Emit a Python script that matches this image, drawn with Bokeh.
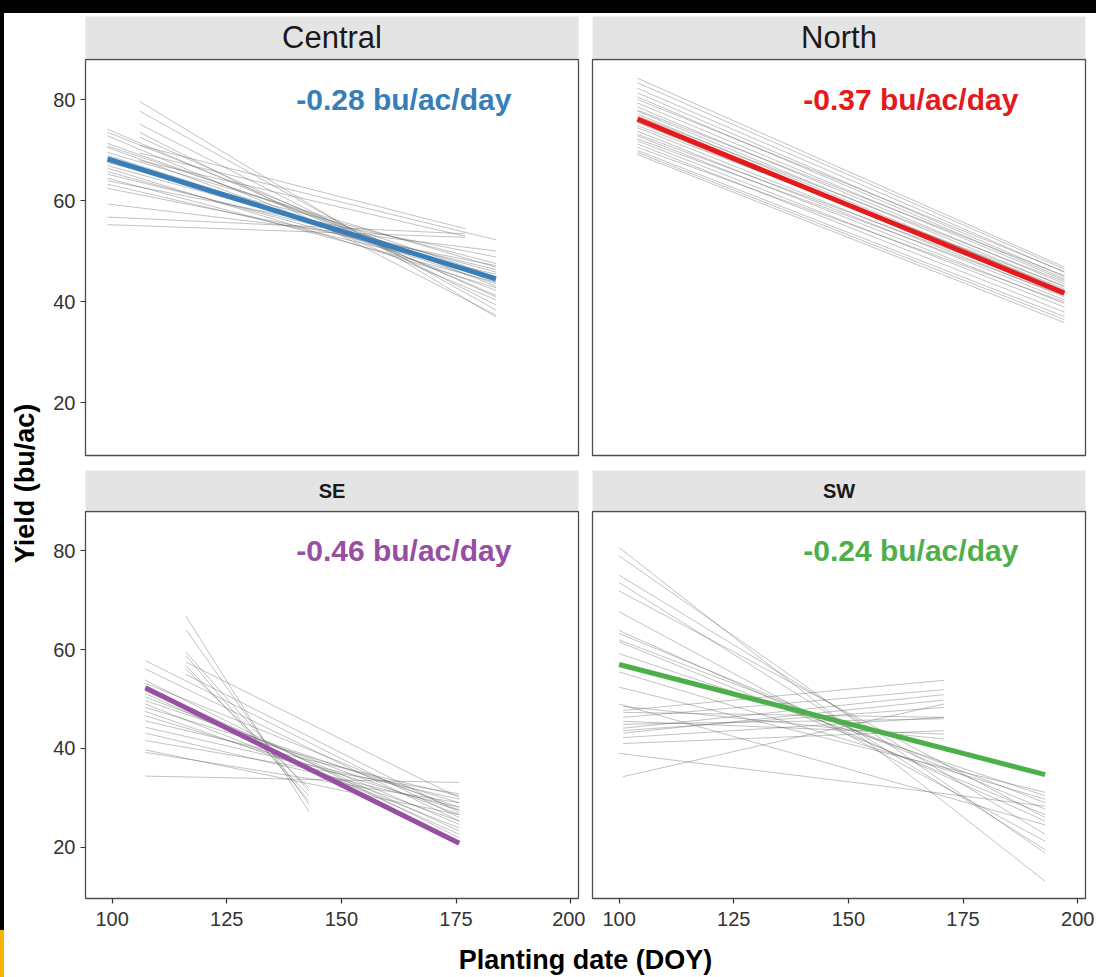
import math

from bokeh.core.properties import value
from bokeh.embed import file_html
from bokeh.layouts import column, row
from bokeh.models import ColumnDataSource, Div, FixedTicker, Range1d, Spacer
from bokeh.plotting import figure
from bokeh.resources import INLINE

FONT = "Liberation Sans"

# ---- regional summary fits -------------------------------------------------
regions = ["Central", "North", "SE", "SW"]
slopes = [-0.28, -0.37, -0.46, -0.24]            # bu/ac/day
fit_colors = ["#377EB8", "#E41A1C", "#984EA3", "#4DAF4A"]
fit_start_doy = [99.0, 104.0, 107.25, 100.0]
fit_start_yield = [68.3, 76.2, 52.3, 57.0]
fit_end_doy = [183.7, 197.1, 175.7, 192.9]

# ---- site-level regression segments (planting date -> yield) -------------
central_doy0 = [99, 99, 99, 99, 99, 99, 99, 99, 99, 99, 99, 99, 99, 99, 99, 99, 99, 99, 99, 99, 99,
                106, 106, 106, 106, 106, 106, 106, 106]
central_doy1 = [183.7, 183.7, 183.7, 183.7, 183.7, 183.7, 183.7, 183.7, 183.7, 183.7, 183.7, 183.7,
                183.7, 183.7, 183.7, 183.7, 183.7, 183.7, 183.7, 177, 177,
                183.7, 183.7, 183.7, 183.7, 183.7, 177, 183.7, 177]
central_y0 = [74.2, 73.6, 72.9, 71.4, 70.9, 70.6, 69.6, 69.0, 68.6, 67.6, 67.0, 66.5, 65.8, 65.3,
              64.5, 64.0, 63.3, 62.5, 59.4, 56.8, 55.3,
              79.7, 77.8, 75.2, 73.6, 72.6, 71.0, 69.5, 68.0]
central_y1 = [41.3, 43.1, 40.4, 44.0, 45.0, 42.3, 46.9, 44.5, 43.6, 47.6, 45.9, 42.8, 44.9, 46.4,
              43.9, 48.9, 45.5, 47.2, 50.1, 53.5, 52.8,
              37.0, 38.4, 39.4, 37.4, 41.0, 54.5, 52.3, 53.0]

north_doy0 = [104] * 26
north_doy1 = [197.1] * 26
north_y0 = [84.3, 83.4, 82.3, 81.4, 80.6, 80.1, 79.4, 78.6, 78.0, 77.8, 77.2, 76.8, 75.9, 75.5,
            74.9, 74.5, 73.8, 73.2, 72.9, 72.3, 71.9, 71.3, 70.6, 70.0, 69.6, 69.2]
north_y1 = [46.9, 46.5, 45.9, 45.0, 44.6, 46.0, 44.3, 43.6, 45.2, 43.0, 42.3, 44.0, 42.6, 41.7,
            43.2, 41.0, 40.4, 42.0, 39.7, 41.3, 39.0, 38.0, 40.0, 37.1, 36.5, 35.9]

se_doy0 = [107.25] * 20 + [116.1] * 8
se_doy1 = [175.7] * 20 + [142.9, 142.9, 142.9, 142.9, 142.9, 142.9, 175.7, 175.7]
se_y0 = [57.8, 56.1, 53.8, 53.2, 52.4, 51.6, 51.1, 50.4, 49.7, 49.0, 48.3, 47.5, 46.6, 45.6,
         44.3, 43.1, 41.6, 39.7, 39.2, 34.4,
         66.8, 64.1, 59.5, 58.8, 56.8, 56.1, 57.5, 55.0]
se_y1 = [26.0, 25.3, 21.9, 27.5, 23.3, 24.6, 22.6, 26.6, 28.1, 23.9, 29.0, 25.3, 27.5, 30.4,
         29.7, 28.1, 30.8, 26.6, 29.0, 33.1,
         27.2, 28.7, 31.4, 29.4, 30.4, 32.0, 30.0, 27.0]

sw_doy0 = [100] * 15 + [100.9] * 12
sw_doy1 = [192.9] * 15 + [170.8] * 12
sw_y0 = [80.7, 79.0, 75.1, 73.6, 71.9, 67.7, 63.9, 63.3, 62.0, 61.6, 59.2, 55.5, 52.4, 39.0, 49.0,
         47.7, 47.3, 46.3, 44.9, 44.1, 43.1, 42.2, 41.0, 34.3, 45.5, 48.5, 43.6]
sw_y1 = [13.1, 18.8, 22.6, 19.5, 26.0, 21.2, 25.3, 27.7, 29.0, 26.6, 30.4, 29.7, 31.1, 28.3, 24.5,
         53.8, 46.3, 51.9, 46.0, 50.9, 49.8, 46.3, 43.6, 49.0, 42.9, 41.9, 48.3]

site_segments = {
    "Central": (central_doy0, central_y0, central_doy1, central_y1),
    "North": (north_doy0, north_y0, north_doy1, north_y1),
    "SE": (se_doy0, se_y0, se_doy1, se_y1),
    "SW": (sw_doy0, sw_y0, sw_doy1, sw_y1),
}

x_ticks = [100, 125, 150, 175, 200]
y_ticks = [20, 40, 60, 80]
X_LIMITS = (94.2, 201.7)
Y_LIMITS = (9.6, 88.0)
LABEL_DOY = 163.6
LABEL_YIELD = 80.0

FRAME_W = 493
STRIP_FILL = "#E4E4E4"
BORDER = "#4D4D4D"
TEXT = "#1A1A1A"


def strip(label, left, right, height, size, style):
    s = figure(width=left + FRAME_W + right, height=height,
               x_range=Range1d(0, 1), y_range=Range1d(0, 1),
               min_border_left=left, min_border_right=right,
               min_border_top=0, min_border_bottom=0,
               x_axis_location=None, y_axis_location=None,
               toolbar_location=None, output_backend="svg",
               background_fill_color=STRIP_FILL, border_fill_color="white",
               outline_line_color=None)
    s.xgrid.visible = False
    s.ygrid.visible = False
    s.text(x=[0.5], y=[0.5], text=[label], text_align="center", text_baseline="middle",
           text_font=value(FONT), text_font_size=size, text_font_style=style,
           text_color=TEXT)
    return s


def panel(i, left, right, top, frame_h, bottom, show_y, show_x):
    name = regions[i]
    p = figure(width=left + FRAME_W + right, height=top + frame_h + bottom,
               x_range=Range1d(*X_LIMITS), y_range=Range1d(*Y_LIMITS),
               min_border_left=left, min_border_right=right,
               min_border_top=top, min_border_bottom=bottom,
               x_axis_location="below" if show_x else None,
               y_axis_location="left" if show_y else None,
               toolbar_location=None, output_backend="svg",
               background_fill_color="white", border_fill_color="white",
               outline_line_color=BORDER, outline_line_width=1.3)
    p.xgrid.visible = False
    p.ygrid.visible = False

    axes = []
    if show_x:
        p.xaxis.ticker = FixedTicker(ticks=x_ticks)
        p.xaxis.major_label_standoff = 8
        axes.append(p.xaxis[0])
    if show_y:
        p.yaxis.ticker = FixedTicker(ticks=y_ticks)
        p.yaxis.major_label_standoff = 5
        axes.append(p.yaxis[0])
    for ax in axes:
        ax.axis_line_color = None
        ax.major_tick_line_color = "#333333"
        ax.major_tick_line_width = 1.2
        ax.major_tick_out = 5
        ax.major_tick_in = 0
        ax.minor_tick_line_color = None
        ax.major_label_text_font = FONT
        ax.major_label_text_font_size = "20px"
        ax.major_label_text_color = "#333333"

    x0, y0, x1, y1 = site_segments[name]
    src = ColumnDataSource(dict(x0=x0, y0=y0, x1=x1, y1=y1))
    p.segment(x0="x0", y0="y0", x1="x1", y1="y1", source=src,
              line_color="#666666", line_alpha=0.4, line_width=1.0)

    fx = [fit_start_doy[i], fit_end_doy[i]]
    fy = [fit_start_yield[i] + slopes[i] * (d - fit_start_doy[i]) for d in fx]
    p.line(fx, fy, line_color=fit_colors[i], line_width=5)

    p.text(x=[LABEL_DOY], y=[LABEL_YIELD], text=[f"{slopes[i]:.2f} bu/ac/day"],
           text_align="center", text_baseline="middle",
           text_font=value(FONT), text_font_size="30px", text_font_style="bold",
           text_color=fit_colors[i])
    return p


# top row
central = column(Spacer(width=541, height=3),
                 strip("Central", 41, 7, 42, "31px", "normal"),
                 panel(0, 41, 7, 1, 396, 7, True, False))
north = column(Spacer(width=511, height=3),
               strip("North", 7, 11, 42, "31px", "normal"),
               panel(1, 7, 11, 1, 396, 7, False, False))

# bottom row
se = column(Spacer(width=541, height=8),
            strip("SE", 41, 7, 40, "20px", "bold"),
            panel(2, 41, 7, 1, 387, 40, True, True))
sw = column(Spacer(width=511, height=8),
            strip("SW", 7, 11, 40, "20px", "bold"),
            panel(3, 7, 11, 1, 387, 40, False, True))

# shared x-axis title
xlab = figure(width=1052, height=39, x_range=Range1d(0, 1052), y_range=Range1d(0, 39),
              min_border=0, min_border_left=0, min_border_right=0,
              min_border_top=0, min_border_bottom=0,
              x_axis_location=None, y_axis_location=None,
              toolbar_location=None, output_backend="svg", outline_line_color=None)
xlab.xgrid.visible = False
xlab.ygrid.visible = False
xlab.text(x=[541], y=[18], text=["Planting date (DOY)"], text_align="center",
          text_baseline="alphabetic", text_font=value(FONT), text_font_size="27px",
          text_font_style="bold", text_color="black")

# shared y-axis title
ylab = figure(width=40, height=964, x_range=Range1d(0, 40), y_range=Range1d(0, 964),
              min_border=0, min_border_left=0, min_border_right=0,
              min_border_top=0, min_border_bottom=0,
              x_axis_location=None, y_axis_location=None,
              toolbar_location=None, output_backend="svg", outline_line_color=None)
ylab.xgrid.visible = False
ylab.ygrid.visible = False
ylab.text(x=[20], y=[494], text=["Yield (bu/ac)"], angle=math.pi / 2,
          text_align="center", text_baseline="middle", text_font=value(FONT),
          text_font_size="27px", text_font_style="bold", text_color="black")

panels = column(row(central, north), row(se, sw), xlab)

top_band = Div(text="", width=1096, height=13, margin=0,
               styles={"background-color": "#000000"})
left_band = Div(text="", width=4, height=964, margin=0,
                styles={"background": "linear-gradient(#000000 0px, #000000 917px, #F2B500 917px)"})

page = column(top_band, row(left_band, ylab, panels))

with open("out.html", "w") as f:
    f.write(file_html(page, INLINE, title="Yield vs planting date"))
